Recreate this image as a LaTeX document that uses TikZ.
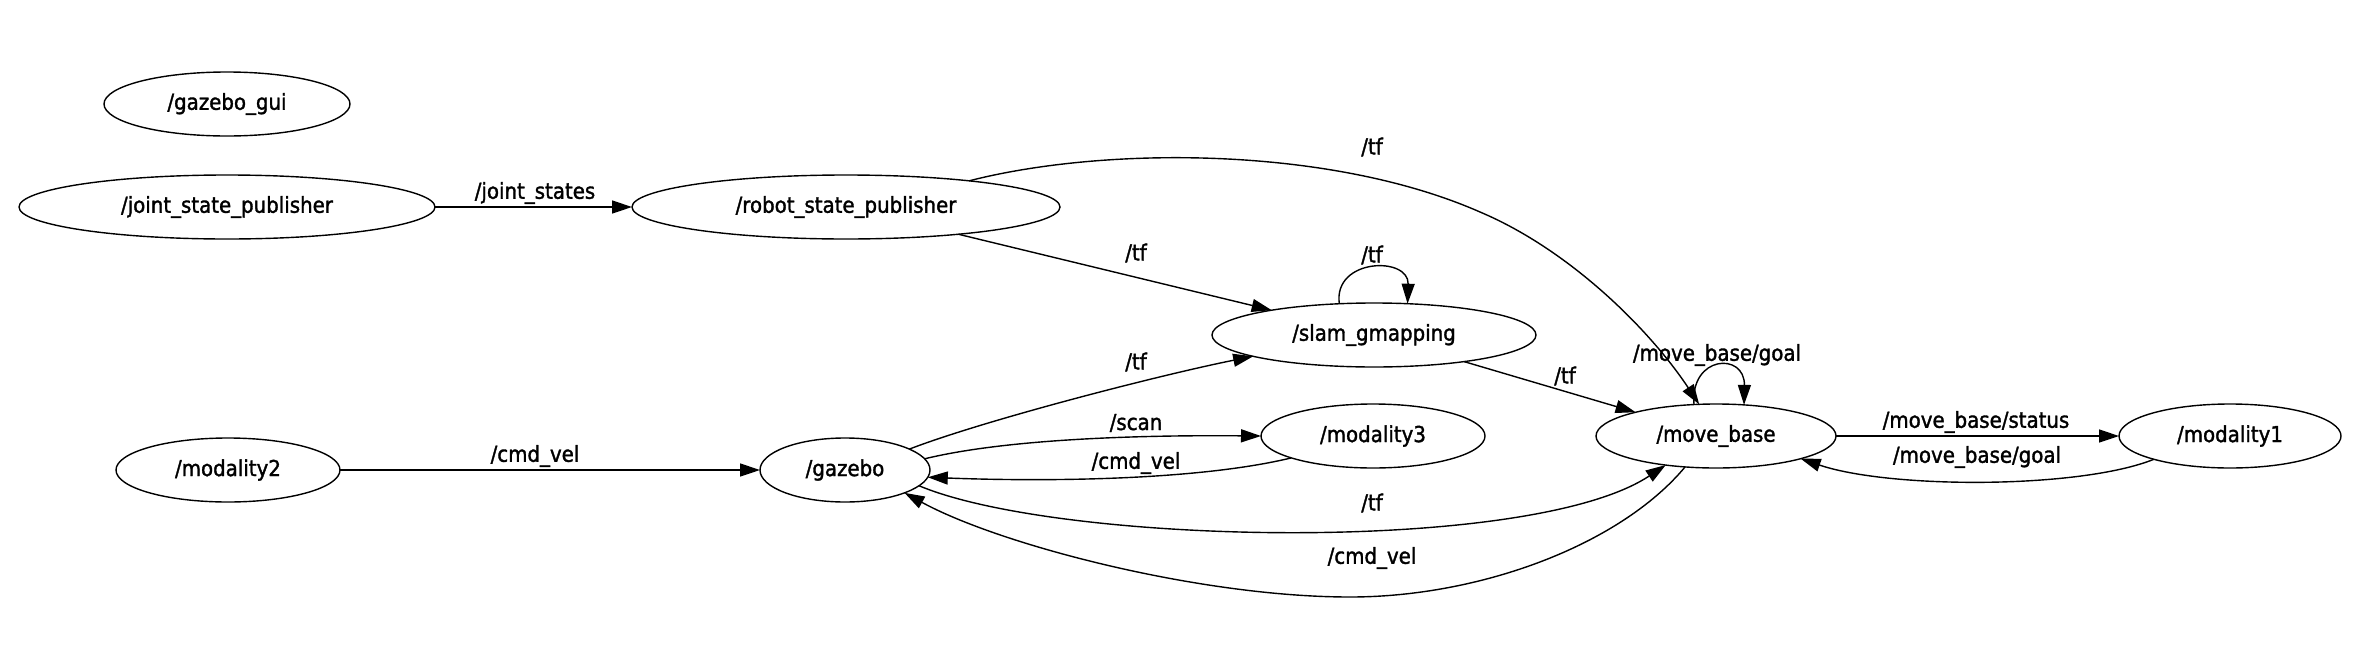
\documentclass[tikz,border=0pt]{standalone}
\usepackage{fontspec}
\newfontfamily\lblfont[FakeStretch=0.9,FakeBold=1.5]{DejaVu Sans}
\usetikzlibrary{shapes.geometric,arrows.meta}
\begin{document}
\begin{tikzpicture}[x=1pt,y=-1pt,
  nd/.style={draw, ellipse, line width=1.4pt, inner sep=0pt, outer sep=0pt,
    minimum height=64pt, font={\lblfont\fontsize{22}{26}\selectfont}},
  lb/.style={inner sep=0pt, font={\lblfont\fontsize{22}{26}\selectfont}},
  ed/.style={line width=1.4pt, -{Triangle[length=20pt,width=13pt]}},
]
\useasboundingbox[fill=white] (0,0) rectangle (2368,656);

% nodes
\node[nd, minimum width=246pt] (gui)  at (227,104)  {/gazebo\_gui};
\node[nd, minimum width=416pt] (jsp)  at (227,207)  {/joint\_state\_publisher};
\node[nd, minimum width=428pt] (rsp)  at (846,207)  {/robot\_state\_publisher};
\node[nd, minimum width=324pt] (slam) at (1374,335) {/slam\_gmapping};
\node[nd, minimum width=224pt] (m3)   at (1373,436) {/modality3};
\node[nd, minimum width=170pt] (gz)   at (845,470)  {/gazebo};
\node[nd, minimum width=224pt] (m2)   at (228,470)  {/modality2};
\node[nd, minimum width=240pt] (mb)   at (1716,436) {/move\_base};
\node[nd, minimum width=222pt] (m1)   at (2230,436) {/modality1};

% edges
\draw[ed] (jsp) -- (rsp);
\draw[ed] (rsp) -- (slam);
\draw[ed] (rsp.12) .. controls (1105,146) and (1330,146) .. (1480,212)
                   .. controls (1570,250) and (1650,330) .. (mb.118);
\draw[ed] (slam.138) .. controls (1333,258) and (1409,256) .. (slam.43);
\draw[ed] (gz.18) .. controls (985,420) and (1160,375) .. (slam.190);
\draw[ed] (gz.8) .. controls (1010,438) and (1150,435) .. (m3.west);
\draw[ed] (m3.195) .. controls (1200,480) and (1050,482) .. (gz.-5);
\draw[ed] (slam) -- (mb);
\draw[ed] (mb.125) .. controls (1690,355) and (1745,352) .. (mb.48);
\draw[ed] (gz.-12) .. controls (1060,545) and (1530,555) .. (mb.210);
\draw[ed] (mb.225) .. controls (1620,545) and (1480,597) .. (1350,597)
                   .. controls (1200,597) and (1000,545) .. (gz.-21);
\draw[ed] (m2) -- (gz);
\draw[ed] (mb) -- (m1);
\draw[ed] (m1.197) .. controls (2080,489) and (1890,489) .. (mb.-15);

% labels
\node[lb] (ljs)  at (535,193)  {/joint\_states};
\node[lb] (ltf1) at (1136,253) {/tf};
\node[lb] (ltf2) at (1372,147) {/tf};
\node[lb] (ltf3) at (1372,255) {/tf};
\node[lb] (ltf4) at (1136,362) {/tf};
\node[lb] (lsc)  at (1136,423) {/scan};
\node[lb] (lcv1) at (1136,463) {/cmd\_vel};
\node[lb] (ltf5) at (1565,376) {/tf};
\node[lb] (lmg1) at (1717,355) {/move\_base/goal};
\node[lb] (ltf6) at (1372,503) {/tf};
\node[lb] (lcv2) at (1372,558) {/cmd\_vel};
\node[lb] (lcv3) at (535,456)  {/cmd\_vel};
\node[lb] (lms)  at (1976,422) {/move\_base/status};
\node[lb] (lmg2) at (1977,457) {/move\_base/goal};
\end{tikzpicture}
\end{document}
